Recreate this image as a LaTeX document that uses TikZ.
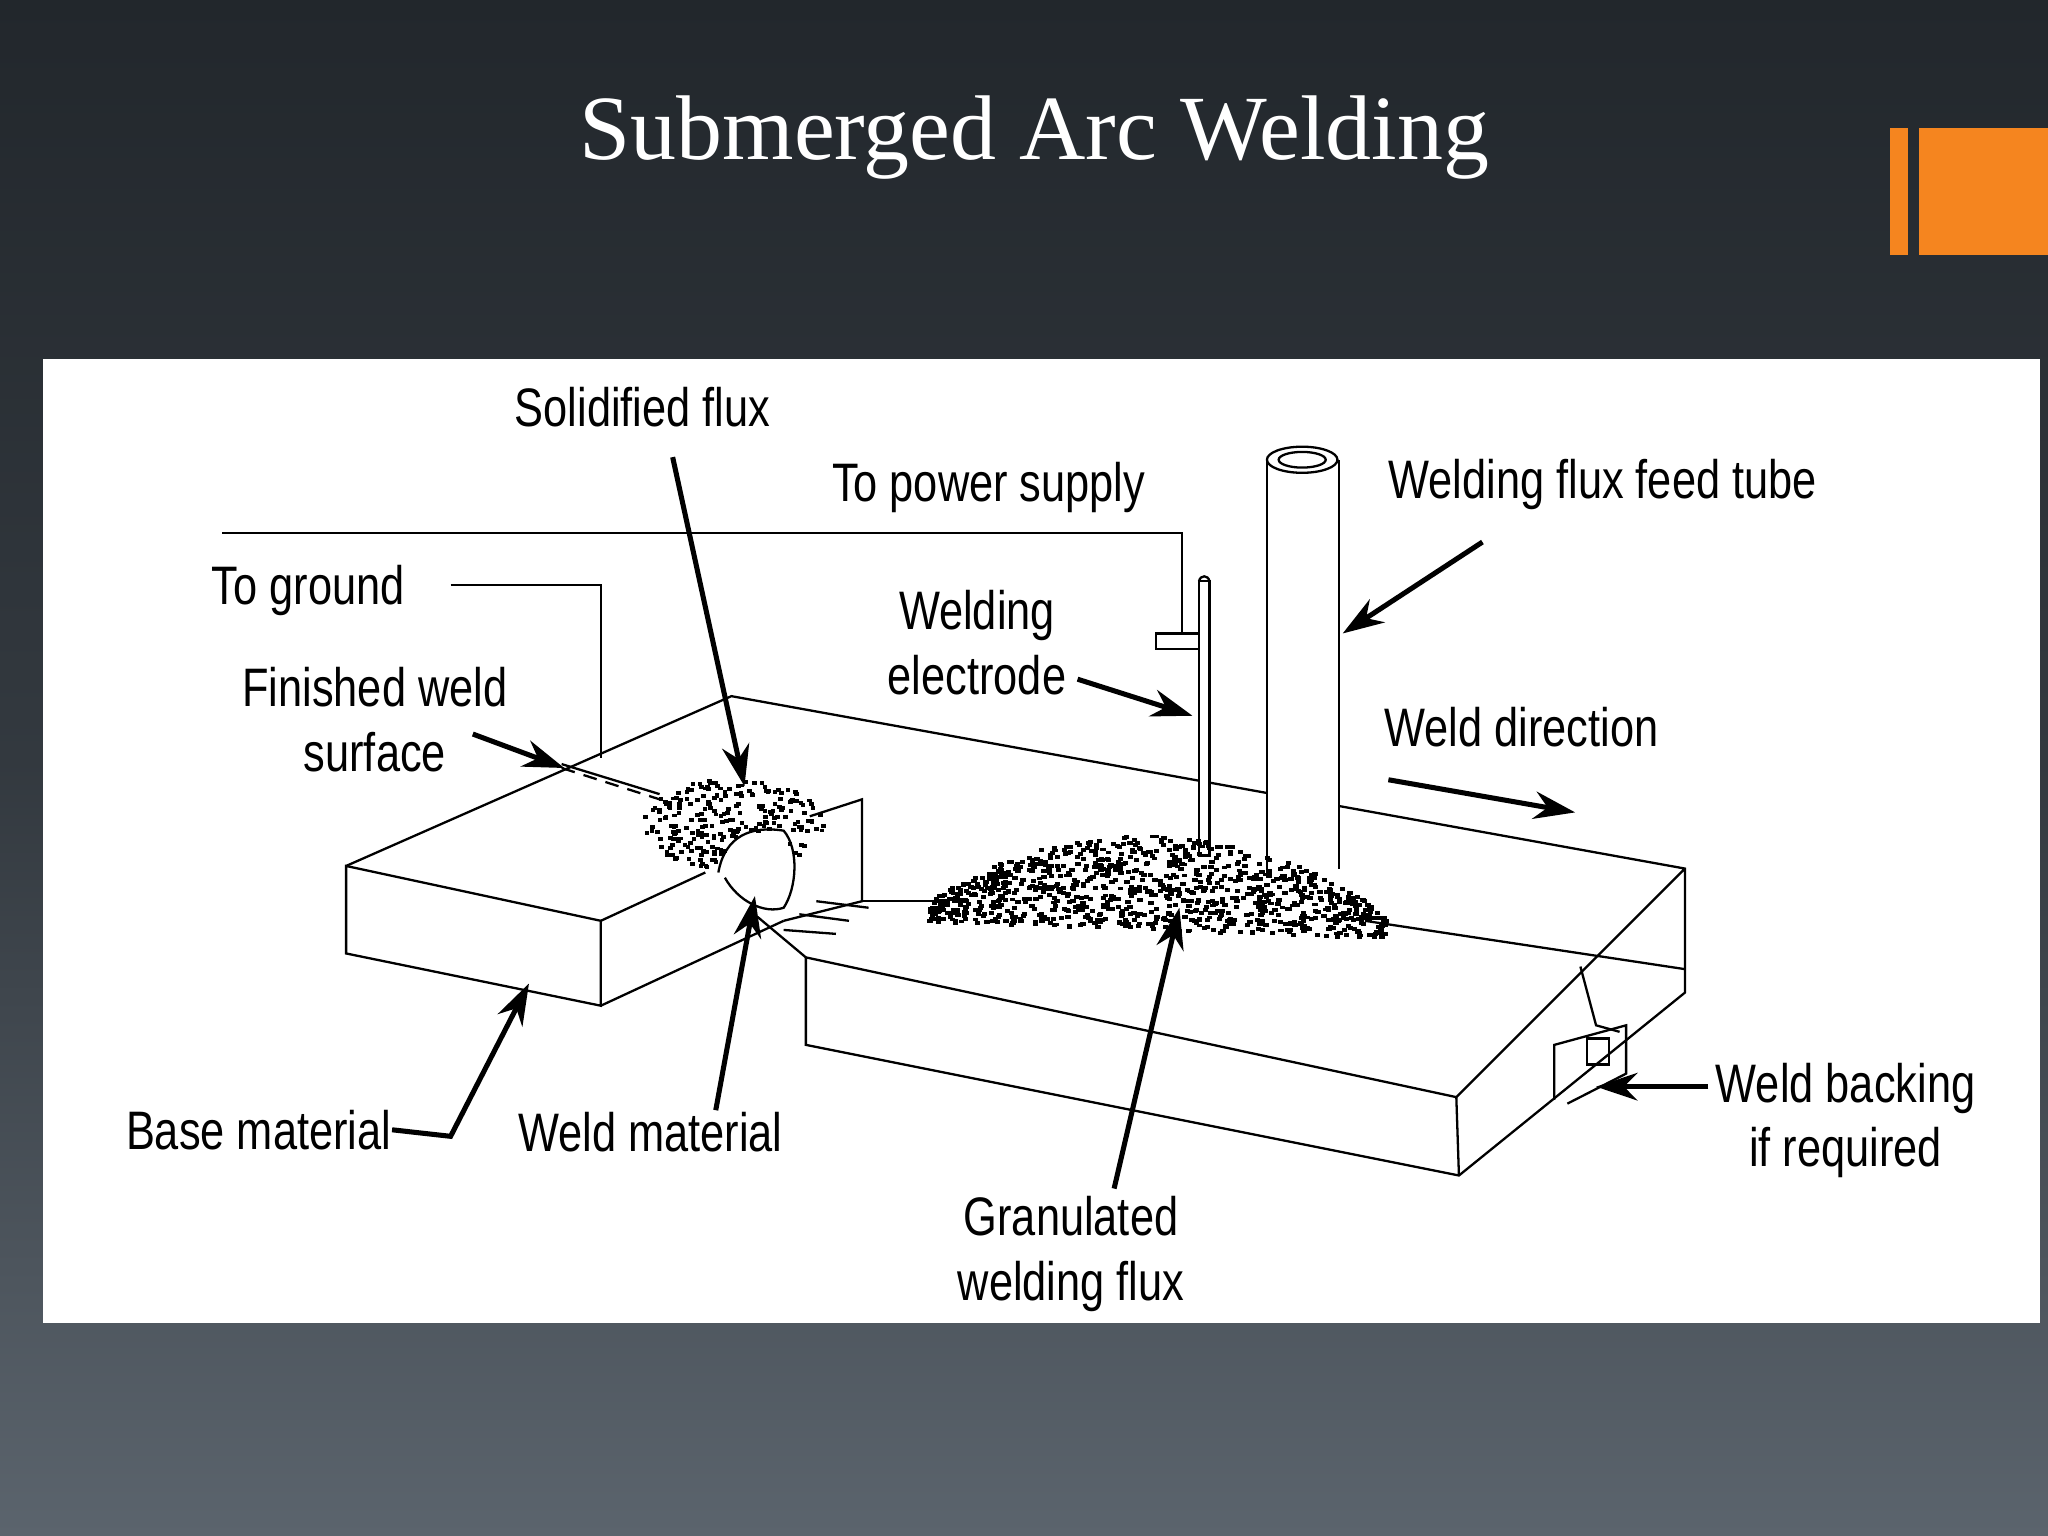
\documentclass[tikz,border=0pt]{standalone}
\usepackage{fontspec}
\setmainfont{Liberation Serif}
\newfontfamily\lab{Liberation Sans}[FakeStretch=0.8]
\usetikzlibrary{arrows.meta}
\definecolor{bgtop}{HTML}{22272C}
\definecolor{bgbot}{HTML}{5B646D}
\definecolor{org}{HTML}{F5851F}
\begin{document}
\begin{tikzpicture}[x=0.01cm,y=-0.01cm,
  lbl/.style={font=\lab\fontsize{11.8}{14}\selectfont,align=center,inner sep=0},
  ln/.style={line width=0.5pt,black},
  arr/.style={line width=1.1pt,-{Stealth[length=9pt,width=6pt]}},
  dot/.style={fill=black}]
\shade[top color=bgtop,bottom color=bgbot,middle color=bgtop!70!bgbot] (0,0) rectangle (1568,1176);
\useasboundingbox (0,0) rectangle (1568,1176);
\fill[org] (1447,98) rectangle (1461,195);
\fill[org] (1469,98) rectangle (1568,195);
\node[text=white,font=\fontsize{20}{24}\selectfont] (title) at (792,105) {Submerged Arc Welding};
\fill[white] (33,275) rectangle (1562,1013);
% plates
\draw[ln] (265,663) -- (560,533) -- (1290,665) -- (1290,760) -- (1117,900) -- (617,800) -- (617,733) -- (1115,840) -- (1290,665);
\draw[ln] (1115,840) -- (1117,900);
\draw[ln] (265,663) -- (265,730) -- (460,770) -- (460,705) -- cycle;
\draw[ln] (460,705) -- (540,668);
\draw[ln] (460,770) -- (600,705);
\draw[ln] (600,705) -- (660,690) -- (660,612) -- (620,625);
\draw[ln] (580,702) -- (617,733);
\draw[ln] (600,712) -- (640,715) (612,700) -- (650,705) (625,690) -- (665,695);
\draw[ln] (660,690) -- (720,690);
\draw[ln] (1045,705) -- (1290,742);
\draw[ln] (1210,740) -- (1222,785) -- (1240,790);
% weld backing
\draw[ln] (1190,842) -- (1190,800) -- (1245,785) -- (1245,822) -- (1200,845);
\draw[ln] (1215,795) rectangle (1232,815);
% finished weld
\draw[ln,densely dashed] (430,588) -- (505,612);
\draw[ln] (430,585) -- (505,608);
% bead
\draw[ln] (550,668) .. controls (555,640) and (575,632) .. (600,636) .. controls (612,650) and (610,680) .. (600,695) .. controls (585,700) and (565,690) .. (555,672);
% lines to supply and ground
\draw[ln] (170,408) -- (905,408) -- (905,485);
\draw[ln] (345,448) -- (460,448) -- (460,580);
% electrode
\draw[ln,fill=white] (918,445) rectangle (926,655);
\draw[ln] (918,445) .. controls (919,440) and (925,440) .. (926,445);
\draw[ln,fill=white] (885,485) -- (918,485) -- (918,497) -- (885,497) -- cycle;
% tube
\fill[white] (970,352) rectangle (1025,665);
\draw[ln] (970,352) -- (970,665) (1025,352) -- (1025,665);
\draw[ln,fill=white] (997,352) ellipse (27 and 10);
\draw[ln] (997,352) ellipse (18 and 6);
% flux dots
\pgfmathsetseed{7}
\foreach \i in {1,...,1000}{
  \pgfmathsetmacro\u{rnd}
  \pgfmathsetmacro\v{rnd}
  \pgfmathsetmacro\xx{710+350*\u}
  \pgfmathsetmacro\hh{12+60*sin(180*\u)^0.7}
  \pgfmathsetmacro\yy{705+12*\u-\hh*\v}
  \fill (\xx,\yy) rectangle ++(4,3);
}
\foreach \i in {1,...,280}{
  \pgfmathsetmacro\a{360*rnd}
  \pgfmathsetmacro\r{sqrt(rnd)}
  \pgfmathsetmacro\xx{560+70*\r*cos(\a)}
  \pgfmathsetmacro\yy{630+35*\r*sin(\a)}
  \pgfmathparse{(\xx-580)^2/900+(\yy-665)^2/900<1?1:0}
  \ifnum\pgfmathresult=0 \fill (\xx,\yy) rectangle ++(3.5,3); \fi
}
% labels
\node[lbl] (sf) at (492,312) {Solidified flux};
\node[lbl] (ps) at (757,373) {To power supply};
\node[lbl] (we) at (748,492) {Welding\\electrode};
\node[lbl] (ft) at (1227,371) {Welding flux feed tube};
\node[lbl] (wd) at (1165,557) {Weld direction};
\node[lbl] (tg) at (236,452) {To ground};
\node[lbl] (fw) at (287,551) {Finished weld\\surface};
\node[lbl] (bm) at (198,865) {Base material};
\node[lbl] (wm) at (498,867) {Weld material};
\node[lbl] (gf) at (820,960) {Granulated\\welding flux};
\node[lbl] (wb) at (1413,858) {Weld backing\\if required};
% arrows
\coordinate (a1) at (570,602); \draw[arr] (515,350) -- (a1);
\coordinate (a2) at (913,548); \draw[arr] (825,520) -- (a2);
\coordinate (a3) at (1028,485); \draw[arr] (1135,415) -- (a3);
\coordinate (a4) at (1206,622); \draw[arr] (1063,597) -- (a4);
\coordinate (a5) at (432,588); \draw[arr] (362,562) -- (a5);
\coordinate (a6) at (405,753); \draw[arr] (bm.east) -- (345,870) -- (a6);
\coordinate (a7) at (578,686); \draw[arr] (548,850) -- (a7);
\coordinate (a8) at (903,695); \draw[arr] (853,910) -- (a8);
\coordinate (a9) at (1222,832); \draw[arr] (1308,832) -- (a9);
\end{tikzpicture}
\end{document}
